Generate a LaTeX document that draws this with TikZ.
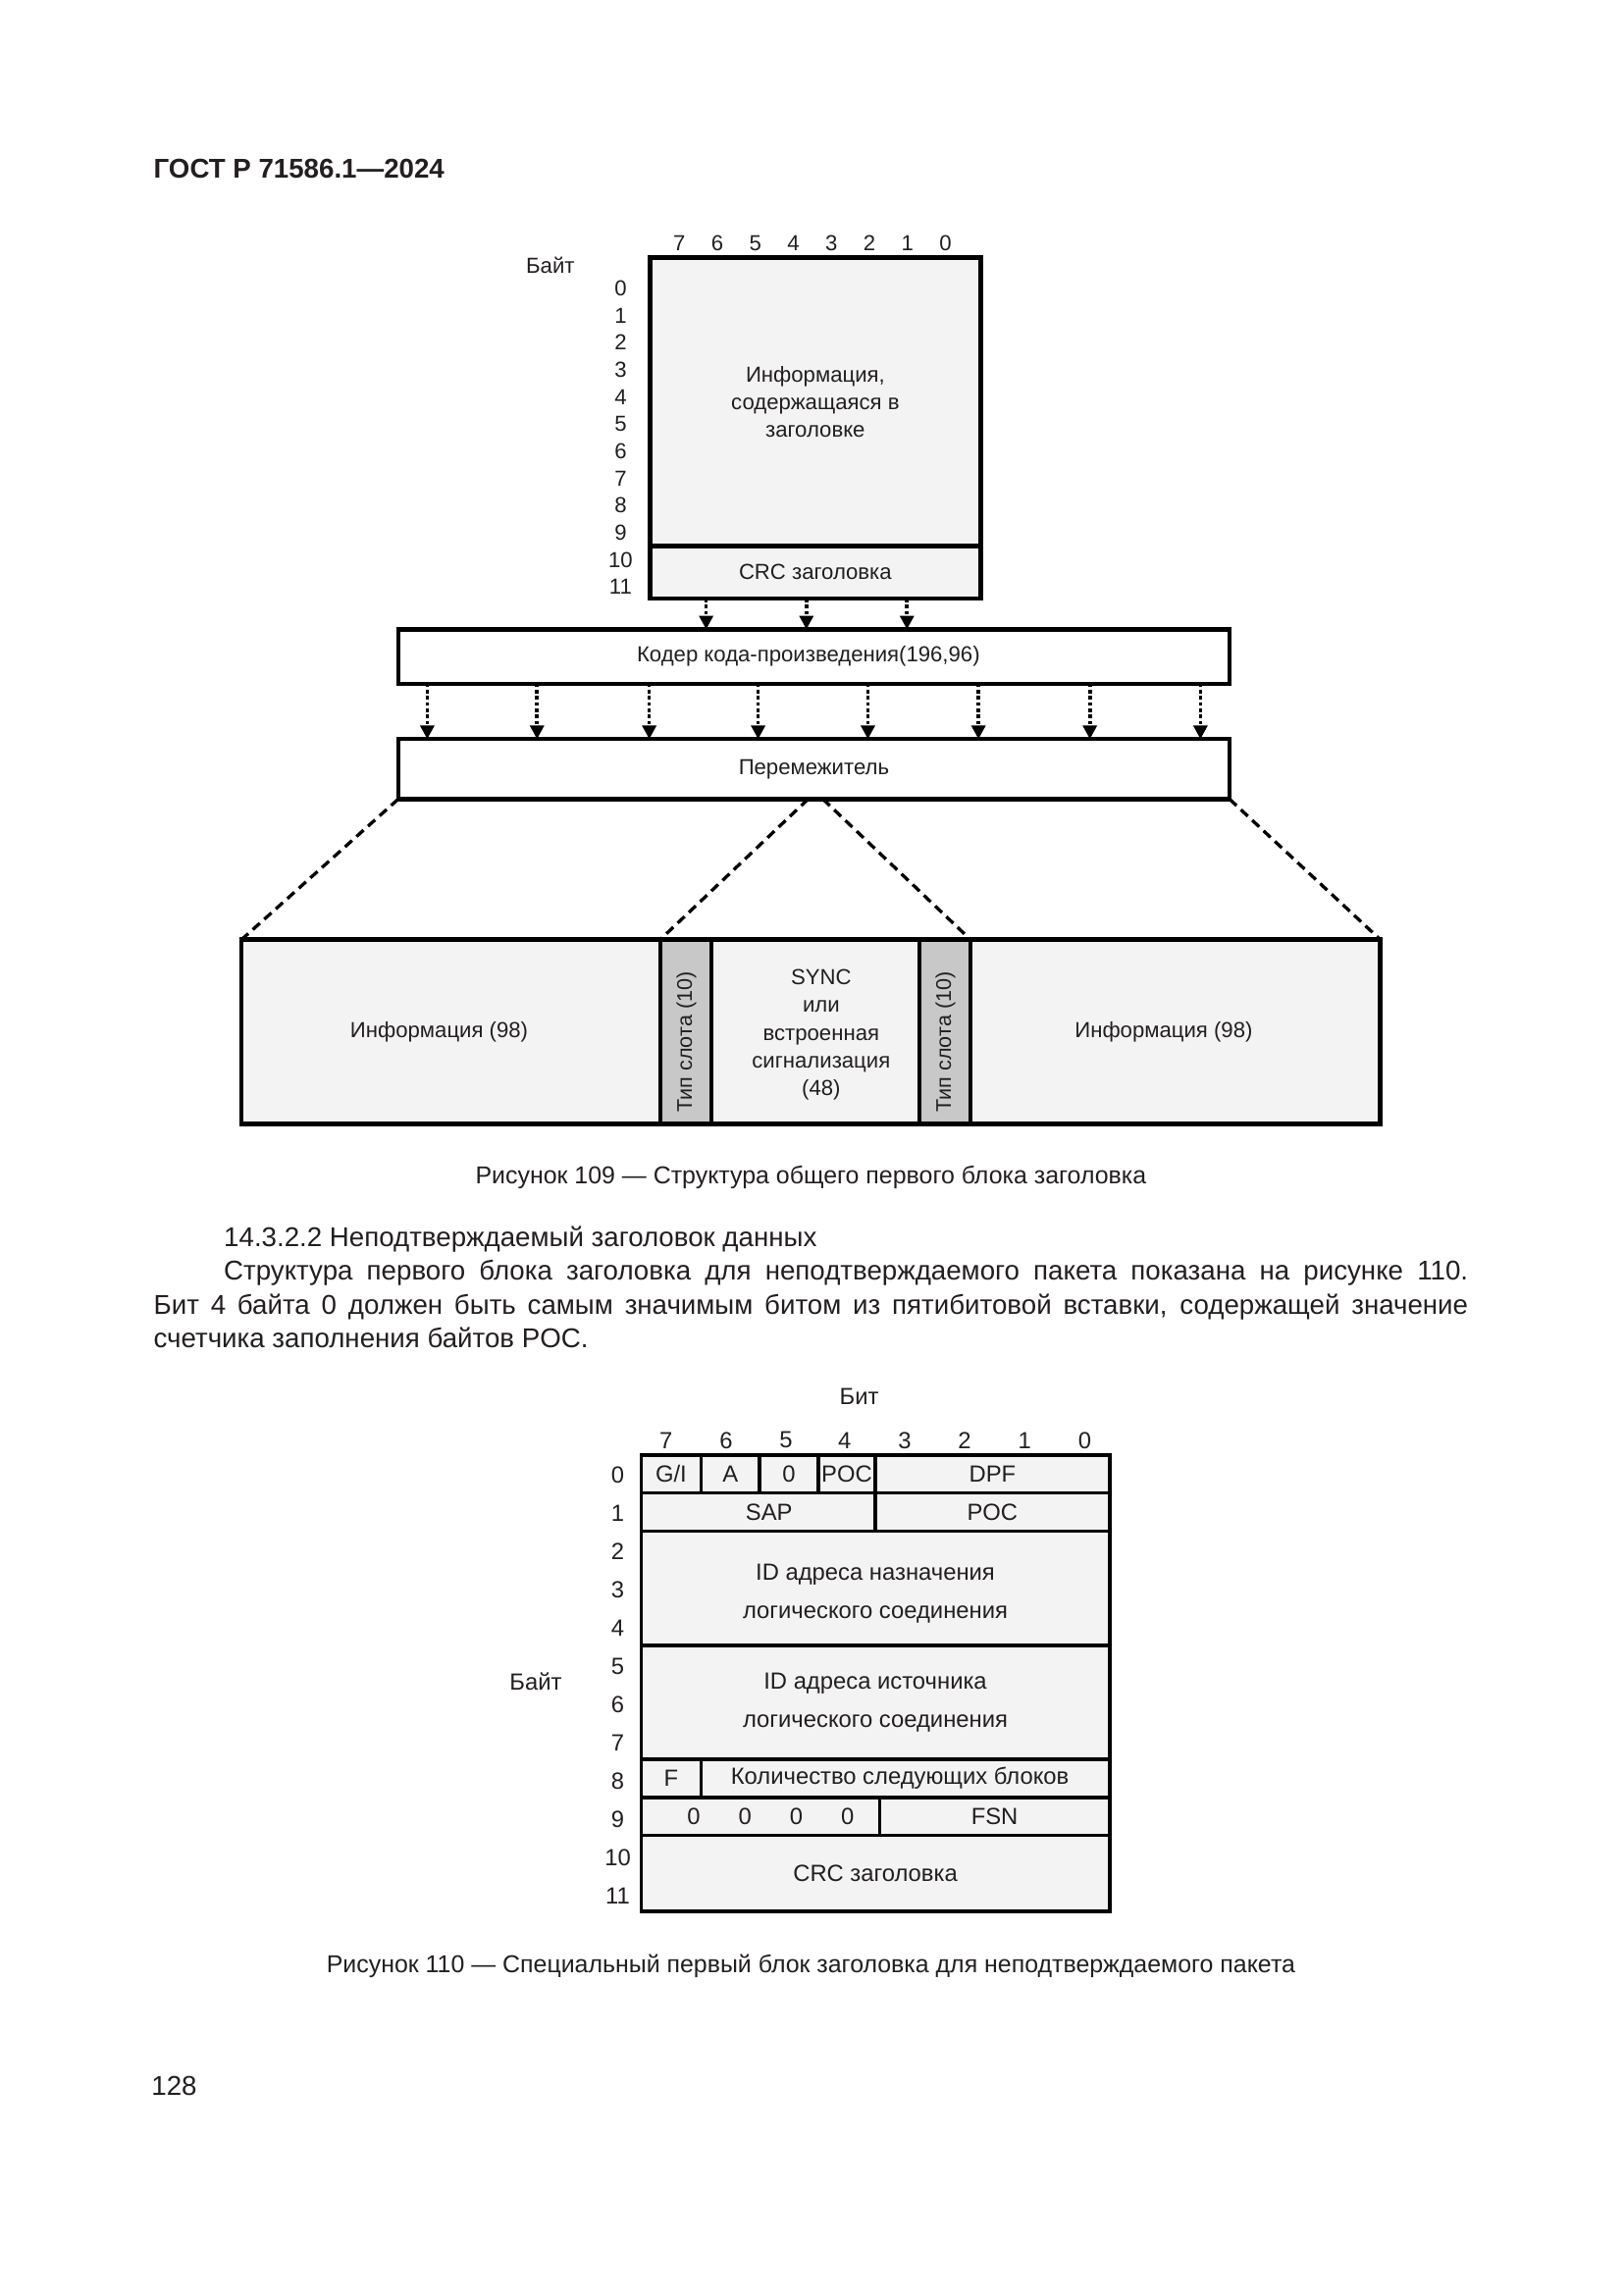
\documentclass[tikz,border=0pt]{standalone}
\usepackage{fontspec}
\setmainfont{Liberation Sans}
\usetikzlibrary{arrows.meta,calc}
\definecolor{ink}{HTML}{231F20}
\definecolor{boxfill}{HTML}{F3F3F3}
\definecolor{slotfill}{HTML}{C8C8C8}
\begin{document}
\begin{tikzpicture}[x=0.18937mm,y=-0.18937mm,
  every node/.style={text=ink,inner sep=0pt,outer sep=0pt},
  sz/.style 2 args={minimum width={#1*0.18937mm},minimum height={#2*0.18937mm}},
  dfont/.style={font=\fontsize{8}{10}\selectfont},
  tfont/.style={font=\fontsize{8.6}{14}\selectfont},
  bodyfont/.style={font=\fontsize{10}{12}\selectfont},
  capfont/.style={font=\fontsize{9}{11}\selectfont},
  thickbox/.style={draw=black,line width=1.6pt,fill=boxfill,align=center,dfont},
  plainbox/.style={draw=black,line width=1.5pt,fill=white,align=center,dfont},
  tcell/.style={draw=black,line width=1.3pt,fill=boxfill,align=center,tfont},
  arr/.style={line width=1.3pt,dash pattern=on 1.3pt off 1pt,-{Triangle[width=5pt,length=5pt]}},
  fan/.style={line width=1.2pt,dash pattern=on 3.5pt off 2.2pt},
]
\fill[white] (0,0) rectangle (1109,1568);
\useasboundingbox (0,0) rectangle (1109,1568);

% page header
\node[anchor=base west,font=\fontsize{10}{12}\selectfont\bfseries] (hdr) at (105,121.7) {ГОСТ Р 71586.1—2024};

% ---------- Figure 109 ----------
\node[dfont] (bayt1) at (376,181) {Байт};
\foreach \b/\x in {7/464,6/490,5/516,4/542,3/568,2/594,1/620,0/646}
  \node[dfont] (tb\b) at (\x,166) {\b};
\foreach \i in {0,...,11}
  \node[dfont] (tr\i) at (424,{197+18.55*\i}) {\i};

\node[thickbox,sz={226}{197}] (hinfo) at (557,274.5) {Информация,\\содержащаяся в\\заголовке};
\node[thickbox,sz={226}{36}] (hcrc) at (557,391) {CRC заголовка};

\node[plainbox,sz={568}{37}] (coder) at (556,448.5) {Кодер кода-произведения(196,96)\hspace*{4pt}};
\node[plainbox,sz={568}{41}] (ilv) at (556,525.5) {Перемежитель};

\foreach \f in {0.17,0.473,0.777}
  \draw[arr] ($(hcrc.south west)!\f!(hcrc.south east)$) coordinate (p) -- (p |- coder.north);
\foreach \f in {0.035,0.167,0.302,0.433,0.565,0.698,0.832,0.965}
  \draw[arr] ($(coder.south west)!\f!(coder.south east)$) coordinate (q) -- (q |- ilv.north);

\node[thickbox,sz={286}{126}] (info1) at (308,705) {};
\node[thickbox,fill=slotfill,sz={35}{126}] (slot1) at (468.5,705) {};
\node[thickbox,sz={142}{126}] (sync) at (557,705) {};
\node[thickbox,fill=slotfill,sz={35}{126}] (slot2) at (645.5,705) {};
\node[thickbox,sz={280}{126}] (info2) at (803,705) {};
\node[dfont] (info1t) at (300,705) {Информация (98)};
\node[dfont] (info2t) at (795,705) {Информация (98)};
\node[font=\fontsize{8}{10.2}\selectfont,align=center] (synct) at (561,707) {SYNC\\или\\встроенная\\сигнализация\\(48)};
\node[rotate=90,font=\fontsize{7.8}{9}\selectfont] (slot1t) at (469,712) {Тип слота (10)};
\node[rotate=90,font=\fontsize{7.8}{9}\selectfont] (slot2t) at (646,712) {Тип слота (10)};

\draw[fan] (ilv.south west) -- (info1.north west);
\draw[fan] ($(ilv.south west)!0.493!(ilv.south east)$) -- (slot1.north west);
\draw[fan] ($(ilv.south west)!0.511!(ilv.south east)$) -- (slot2.north east);
\draw[fan] (ilv.south east) -- (info2.north east);

\node[capfont,anchor=base] (cap109) at (554,809) {Рисунок 109 — Структура общего первого блока заголовка};

% ---------- body text ----------
\node[bodyfont,anchor=base west] (sec) at (153,851.5) {14.3.2.2 Неподтверждаемый заголовок данных};
\node[bodyfont,anchor=base west] (p1) at (153,874.2) {\makebox[458pt][s]{Структура первого блока заголовка для неподтверждаемого пакета показана на рисунке 110.}};
\node[bodyfont,anchor=base west] (p2) at (105,897.7) {\makebox[483.8pt][s]{Бит 4 байта 0 должен быть самым значимым битом из пятибитовой вставки, содержащей значение}};
\node[bodyfont,anchor=base west] (p3) at (105,920.7) {счетчика заполнения байтов POC.};

% ---------- Figure 110 ----------
\node[tfont] (bit) at (587,954) {Бит};
\node[tfont] (bayt2) at (366,1149) {Байт};
\foreach \b/\x in {7/455,6/496,5/537,4/577,3/618,2/659,1/700,0/741}
  \node[tfont] (bb\b) at (\x,984) {\b};
\foreach \i in {0,...,11}
  \node[tfont] (br\i) at (422,{1008+26.1*\i}) {\i};

\node[tcell,sz={41}{26}] (gi) at (458.5,1007) {G/I};
\node[tcell,sz={40}{26}] (a) at (499,1007) {A};
\node[tcell,sz={40}{26}] (z) at (539,1007) {0};
\node[tcell,sz={39}{26}] (poca) at (578.5,1007) {POC};
\node[tcell,sz={160}{26}] (dpf) at (678,1007) {DPF};
\node[tcell,sz={160}{26}] (sap) at (518,1033) {\hspace*{8pt}SAP};
\node[tcell,sz={160}{26}] (pocb) at (678,1033) {POC};
\node[tcell,sz={320}{78}] (dst) at (598,1085) {};
\node[tfont,align=center] (dstt) at (598,1089) {ID адреса назначения\\логического соединения};
\node[tcell,sz={320}{78}] (src) at (598,1163) {ID адреса источника\\логического соединения};
\node[tcell,sz={41}{26}] (f) at (458.5,1215) {F};
\node[tcell,sz={279}{26}] (cnt) at (618.5,1215) {Количество следующих блоков\hspace*{4pt}};
\node[tcell,sz={163}{26}] (zer) at (519.5,1241) {};
\node[tcell,sz={157}{26}] (fsn) at (679.5,1241) {FSN};
\node[tcell,sz={320}{52}] (crc2) at (598,1280) {CRC заголовка};
\foreach \x [count=\k] in {474,509,544,579}
  \node[tfont] (zz\k) at (\x,1241) {0};

\node[capfont,anchor=base] (cap110) at (554,1348) {Рисунок 110 — Специальный первый блок заголовка для неподтверждаемого пакета};

\node[bodyfont,anchor=base] (pg) at (119,1431.7) {128};
\end{tikzpicture}
\end{document}
